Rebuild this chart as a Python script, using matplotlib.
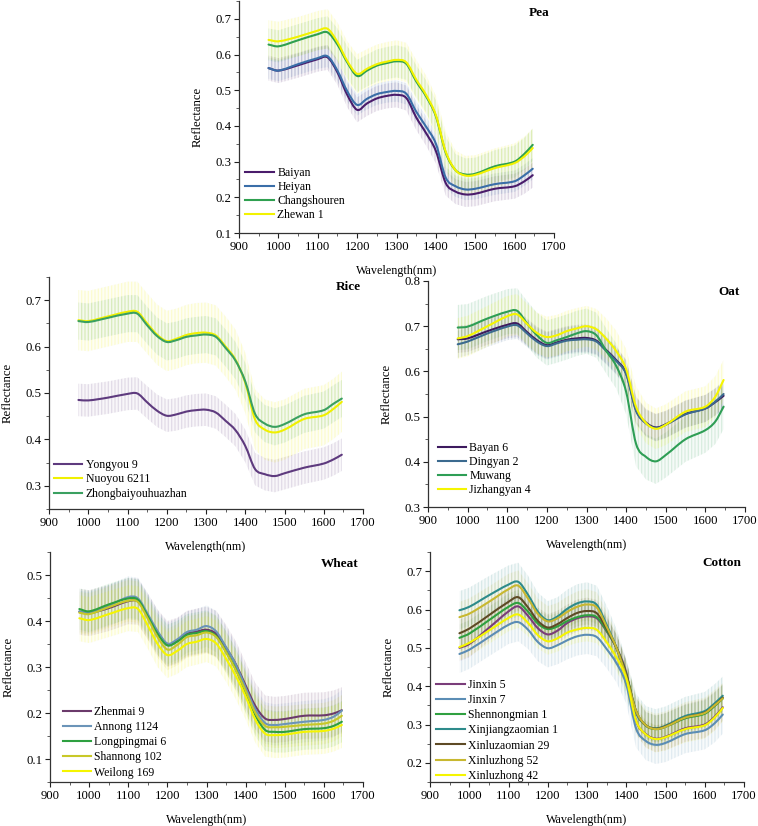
import matplotlib
matplotlib.use("Agg")
import matplotlib.pyplot as plt
from matplotlib.ticker import MultipleLocator
from matplotlib.path import Path
from matplotlib.patches import PathPatch
from matplotlib.lines import Line2D
import numpy as np

plt.rcParams['font.family'] = ['Liberation Serif', 'DejaVu Serif']
plt.rcParams['hatch.linewidth'] = 0.9

# ---------------- data ----------------
wavelength = [975, 1000, 1050, 1100, 1125, 1150, 1175, 1200, 1225, 1250, 1275, 1300,
              1325, 1350, 1375, 1400, 1425, 1450, 1475, 1500, 1550, 1600, 1625, 1646]

# Pea
pea_labels = ["Baiyan", "Heiyan", "Changshouren", "Zhewan 1"]
pea_baiyan = [0.562, 0.555, 0.570, 0.587, 0.592, 0.550, 0.487, 0.445, 0.463, 0.477, 0.484, 0.487,
              0.478, 0.424, 0.380, 0.330, 0.240, 0.216, 0.208, 0.210, 0.224, 0.231, 0.245, 0.262]
pea_heiyan = [0.562, 0.555, 0.573, 0.590, 0.595, 0.555, 0.497, 0.459, 0.476, 0.489, 0.495, 0.498,
              0.490, 0.440, 0.398, 0.350, 0.255, 0.231, 0.222, 0.224, 0.237, 0.245, 0.262, 0.280]
pea_changshouren = [0.628, 0.623, 0.640, 0.657, 0.662, 0.628, 0.578, 0.540, 0.555, 0.569, 0.576, 0.581,
                    0.574, 0.525, 0.483, 0.427, 0.325, 0.276, 0.264, 0.266, 0.287, 0.300, 0.322, 0.347]
pea_zhewan1 = [0.641, 0.637, 0.650, 0.667, 0.672, 0.635, 0.582, 0.546, 0.560, 0.573, 0.580, 0.585,
               0.578, 0.530, 0.487, 0.430, 0.328, 0.276, 0.261, 0.263, 0.282, 0.296, 0.315, 0.338]
pea_std = [0.035, 0.030, 0.045, 0.055]

# Rice
rice_labels = ["Yongyou 9", "Nuoyou 6211", "Zhongbaiyouhuazhan"]
rice_yongyou9 = [0.485, 0.484, 0.490, 0.498, 0.499, 0.480, 0.462, 0.451, 0.454, 0.460, 0.463, 0.464,
                 0.458, 0.440, 0.420, 0.386, 0.336, 0.325, 0.321, 0.327, 0.339, 0.348, 0.357, 0.367]
rice_nuoyou6211 = [0.657, 0.655, 0.665, 0.675, 0.675, 0.650, 0.626, 0.612, 0.617, 0.625, 0.629, 0.630,
                   0.624, 0.600, 0.572, 0.522, 0.443, 0.421, 0.415, 0.421, 0.444, 0.452, 0.466, 0.481]
rice_zhongbai = [0.655, 0.653, 0.662, 0.671, 0.671, 0.646, 0.623, 0.610, 0.614, 0.621, 0.624, 0.626,
                 0.621, 0.597, 0.570, 0.525, 0.455, 0.434, 0.427, 0.433, 0.454, 0.463, 0.477, 0.488]
rice_std = [0.035, 0.065, 0.040]

# Oat
oat_labels = ["Bayan 6", "Dingyan 2", "Muwang", "Jizhangyan 4"]
oat_bayan6 = [0.671, 0.673, 0.689, 0.703, 0.706, 0.687, 0.669, 0.658, 0.664, 0.670, 0.673, 0.674,
              0.668, 0.647, 0.625, 0.596, 0.515, 0.487, 0.476, 0.483, 0.506, 0.518, 0.532, 0.546]
oat_dingyan2 = [0.660, 0.666, 0.684, 0.699, 0.702, 0.684, 0.666, 0.656, 0.662, 0.668, 0.670, 0.671,
                0.666, 0.645, 0.623, 0.594, 0.513, 0.485, 0.475, 0.482, 0.505, 0.518, 0.533, 0.550]
oat_muwang = [0.697, 0.699, 0.717, 0.732, 0.734, 0.706, 0.680, 0.663, 0.669, 0.676, 0.684, 0.689,
              0.680, 0.645, 0.612, 0.555, 0.440, 0.411, 0.401, 0.415, 0.450, 0.470, 0.489, 0.522]
oat_jizhangyan4 = [0.673, 0.678, 0.700, 0.722, 0.726, 0.705, 0.685, 0.676, 0.680, 0.689, 0.695, 0.700,
                   0.693, 0.672, 0.645, 0.605, 0.522, 0.486, 0.473, 0.482, 0.511, 0.522, 0.544, 0.581]
oat_std = [0.030, 0.030, 0.050, 0.045]

# Wheat
wheat_labels = ["Zhenmai 9", "Annong 1124", "Longpingmai 6", "Shannong 102", "Weilong 169"]
wheat_zhenmai9 = [0.420, 0.417, 0.428, 0.443, 0.442, 0.410, 0.375, 0.350, 0.357, 0.372, 0.377, 0.381,
                  0.372, 0.342, 0.306, 0.260, 0.215, 0.188, 0.185, 0.187, 0.194, 0.195, 0.199, 0.206]
wheat_annong1124 = [0.421, 0.418, 0.433, 0.452, 0.449, 0.415, 0.378, 0.351, 0.360, 0.376, 0.381, 0.389,
                    0.377, 0.343, 0.305, 0.255, 0.208, 0.178, 0.174, 0.176, 0.181, 0.185, 0.192, 0.205]
wheat_longpingmai6 = [0.426, 0.421, 0.436, 0.449, 0.446, 0.410, 0.372, 0.347, 0.355, 0.370, 0.374, 0.378,
                      0.367, 0.333, 0.295, 0.245, 0.195, 0.163, 0.159, 0.159, 0.165, 0.167, 0.172, 0.181]
wheat_shannong102 = [0.418, 0.415, 0.430, 0.444, 0.441, 0.405, 0.365, 0.338, 0.348, 0.365, 0.369, 0.375,
                     0.365, 0.332, 0.293, 0.248, 0.200, 0.172, 0.169, 0.170, 0.174, 0.177, 0.183, 0.194]
wheat_weilong169 = [0.406, 0.402, 0.415, 0.428, 0.426, 0.390, 0.350, 0.326, 0.335, 0.350, 0.355, 0.361,
                    0.351, 0.318, 0.280, 0.236, 0.185, 0.155, 0.152, 0.153, 0.159, 0.161, 0.166, 0.174]
wheat_std = [0.050, 0.045, 0.045, 0.045, 0.050]

# Cotton
cotton_labels = ["Jinxin 5", "Jinxin 7", "Shennongmian 1", "Xinjiangzaomian 1",
                 "Xinluzaomian 29", "Xinluzhong 52", "Xinluzhong 42"]
cotton_jinxin5 = [0.500, 0.510, 0.552, 0.595, 0.608, 0.583, 0.551, 0.535, 0.545, 0.565, 0.577, 0.582,
                  0.577, 0.543, 0.500, 0.435, 0.310, 0.275, 0.263, 0.268, 0.290, 0.300, 0.320, 0.345]
cotton_jinxin7 = [0.484, 0.495, 0.528, 0.560, 0.567, 0.547, 0.515, 0.499, 0.507, 0.520, 0.530, 0.534,
                  0.528, 0.497, 0.460, 0.405, 0.290, 0.257, 0.247, 0.252, 0.275, 0.285, 0.303, 0.326]
cotton_shennongmian1 = [0.526, 0.537, 0.572, 0.607, 0.617, 0.594, 0.563, 0.549, 0.556, 0.570, 0.580, 0.585,
                        0.580, 0.545, 0.500, 0.432, 0.335, 0.297, 0.288, 0.294, 0.316, 0.328, 0.348, 0.368]
cotton_xinjiangzaomian1 = [0.598, 0.607, 0.637, 0.665, 0.672, 0.638, 0.594, 0.572, 0.582, 0.602, 0.616, 0.621,
                           0.612, 0.560, 0.500, 0.420, 0.330, 0.298, 0.290, 0.297, 0.322, 0.335, 0.355, 0.375]
cotton_xinluzaomian29 = [0.538, 0.550, 0.585, 0.620, 0.632, 0.605, 0.570, 0.553, 0.562, 0.578, 0.591, 0.596,
                         0.590, 0.550, 0.500, 0.430, 0.335, 0.298, 0.289, 0.295, 0.318, 0.331, 0.350, 0.370]
cotton_xinluzhong52 = [0.580, 0.589, 0.620, 0.653, 0.662, 0.628, 0.588, 0.569, 0.577, 0.594, 0.607, 0.613,
                       0.605, 0.555, 0.500, 0.425, 0.335, 0.298, 0.288, 0.294, 0.318, 0.330, 0.350, 0.368]
cotton_xinluzhong42 = [0.502, 0.513, 0.545, 0.578, 0.587, 0.565, 0.533, 0.517, 0.525, 0.540, 0.548, 0.552,
                       0.547, 0.515, 0.475, 0.420, 0.310, 0.274, 0.262, 0.267, 0.288, 0.298, 0.318, 0.343]
cotton_std = [0.035, 0.050, 0.035, 0.050, 0.035, 0.040, 0.035]

# ---------------- styles ----------------
pea_colors = ['#4a1c6b', '#3a6ea8', '#2fa050', '#f2f200']
rice_colors = ['#5e3a7e', '#f0f000', '#3aa060']
oat_colors = ['#3d1a5e', '#3b6a8f', '#2e9e55', '#f5f500']
wheat_colors = ['#6b3a6b', '#6b94b8', '#2ea040', '#c8c828', '#f5f500']
cotton_colors = ['#7a3d7a', '#5b8db5', '#2fa040', '#2e8b8b', '#5e4a25', '#c8b830', '#f5f500']

fig = plt.figure(figsize=(7.58, 8.26), dpi=100)
W = 758.0
H = 826.0


def make_ax(x0, x1, ytop, ybot):
    return fig.add_axes([x0 / W, 1 - ybot / H, (x1 - x0) / W, (ybot - ytop) / H])


def smooth_path(x, y):
    # cubic Hermite rendering through the read points (line drawing style only)
    x = np.asarray(x, float)
    y = np.asarray(y, float)
    n = len(x)
    m = np.zeros(n)
    m[0] = (y[1] - y[0]) / (x[1] - x[0])
    m[-1] = (y[-1] - y[-2]) / (x[-1] - x[-2])
    for i in range(1, n - 1):
        m[i] = (y[i + 1] - y[i - 1]) / (x[i + 1] - x[i - 1])
    verts = [(x[0], y[0])]
    codes = [Path.MOVETO]
    for i in range(n - 1):
        dx = x[i + 1] - x[i]
        verts += [(x[i] + dx / 3, y[i] + m[i] * dx / 3),
                  (x[i + 1] - dx / 3, y[i + 1] - m[i + 1] * dx / 3),
                  (x[i + 1], y[i + 1])]
        codes += [Path.CURVE4] * 3
    return Path(verts, codes)


def panel(ax, series, labels, colors, stds, ylim, title, tx, ty, leg_anchor, lab_sp):
    x = np.array(wavelength)
    for vals, c, s in zip(series, colors, stds):
        v = np.array(vals)
        rgb = matplotlib.colors.to_rgb(c)
        ax.fill_between(x, v - s, v + s, facecolor=rgb + (0.045,), edgecolor=rgb + (0.14,),
                        linewidth=0, hatch='|||||', zorder=1)
    handles = []
    for vals, c, lab in zip(series, colors, labels):
        ax.add_patch(PathPatch(smooth_path(x, vals), fill=False, edgecolor=c, lw=1.5,
                               zorder=3, capstyle='round', joinstyle='round'))
        handles.append(Line2D([], [], color=c, lw=1.5, label=lab))
    ax.set_xlim(900, 1700)
    ax.set_ylim(*ylim)
    ax.xaxis.set_major_locator(MultipleLocator(100))
    ax.xaxis.set_minor_locator(MultipleLocator(50))
    ax.yaxis.set_major_locator(MultipleLocator(0.1))
    ax.yaxis.set_minor_locator(MultipleLocator(0.05))
    for sp in ['top', 'right']:
        ax.spines[sp].set_visible(False)
    for sp in ['left', 'bottom']:
        ax.spines[sp].set_color('#333333')
        ax.spines[sp].set_linewidth(0.9)
    ax.tick_params(which='major', direction='out', length=3.5, width=0.8, labelsize=9.2,
                   colors='#222222', labelcolor='black', pad=2)
    ax.tick_params(which='minor', direction='out', length=2, width=0.6, colors='#444444')
    ax.set_xlabel('Wavelength(nm)', fontsize=8.7, labelpad=9)
    ax.set_ylabel('Reflectance', fontsize=9.2, labelpad=8)
    ax.text(tx, ty, title, transform=ax.transAxes, ha='right', va='center',
            fontsize=9.5, fontweight='bold')
    ax.legend(handles=handles, loc='lower left', bbox_to_anchor=leg_anchor, frameon=False,
              fontsize=8.5, handlelength=2.4, handletextpad=0.3, labelspacing=lab_sp,
              borderpad=0, borderaxespad=0)


ax_pea = make_ax(239, 554, 1, 233)
panel(ax_pea, [pea_baiyan, pea_heiyan, pea_changshouren, pea_zhewan1], pea_labels, pea_colors,
      pea_std, (0.1, 0.75), 'Pea', 0.985, 0.95, (0.02, 0.05), 0.18)

ax_rice = make_ax(49, 363, 277, 509)
panel(ax_rice, [rice_yongyou9, rice_nuoyou6211, rice_zhongbai], rice_labels, rice_colors,
      rice_std, (0.25, 0.75), 'Rice', 0.994, 0.957, (0.015, 0.04), 0.2)

ax_oat = make_ax(428, 745, 281, 507)
panel(ax_oat, [oat_bayan6, oat_dingyan2, oat_muwang, oat_jizhangyan4], oat_labels, oat_colors,
      oat_std, (0.3, 0.8), 'Oat', 0.984, 0.953, (0.03, 0.05), 0.15)

ax_wheat = make_ax(50, 363, 552, 782)
panel(ax_wheat, [wheat_zhenmai9, wheat_annong1124, wheat_longpingmai6, wheat_shannong102,
                 wheat_weilong169], wheat_labels, wheat_colors,
      wheat_std, (0.05, 0.55), 'Wheat', 0.987, 0.948, (0.04, 0.015), 0.26)

ax_cotton = make_ax(430, 744, 552, 782)
panel(ax_cotton, [cotton_jinxin5, cotton_jinxin7, cotton_shennongmian1, cotton_xinjiangzaomian1,
                  cotton_xinluzaomian29, cotton_xinluzhong52, cotton_xinluzhong42],
      cotton_labels, cotton_colors,
      cotton_std, (0.15, 0.75), 'Cotton', 0.99, 0.952, (0.02, 0.0), 0.27)

fig.savefig('out.png', dpi=100)
